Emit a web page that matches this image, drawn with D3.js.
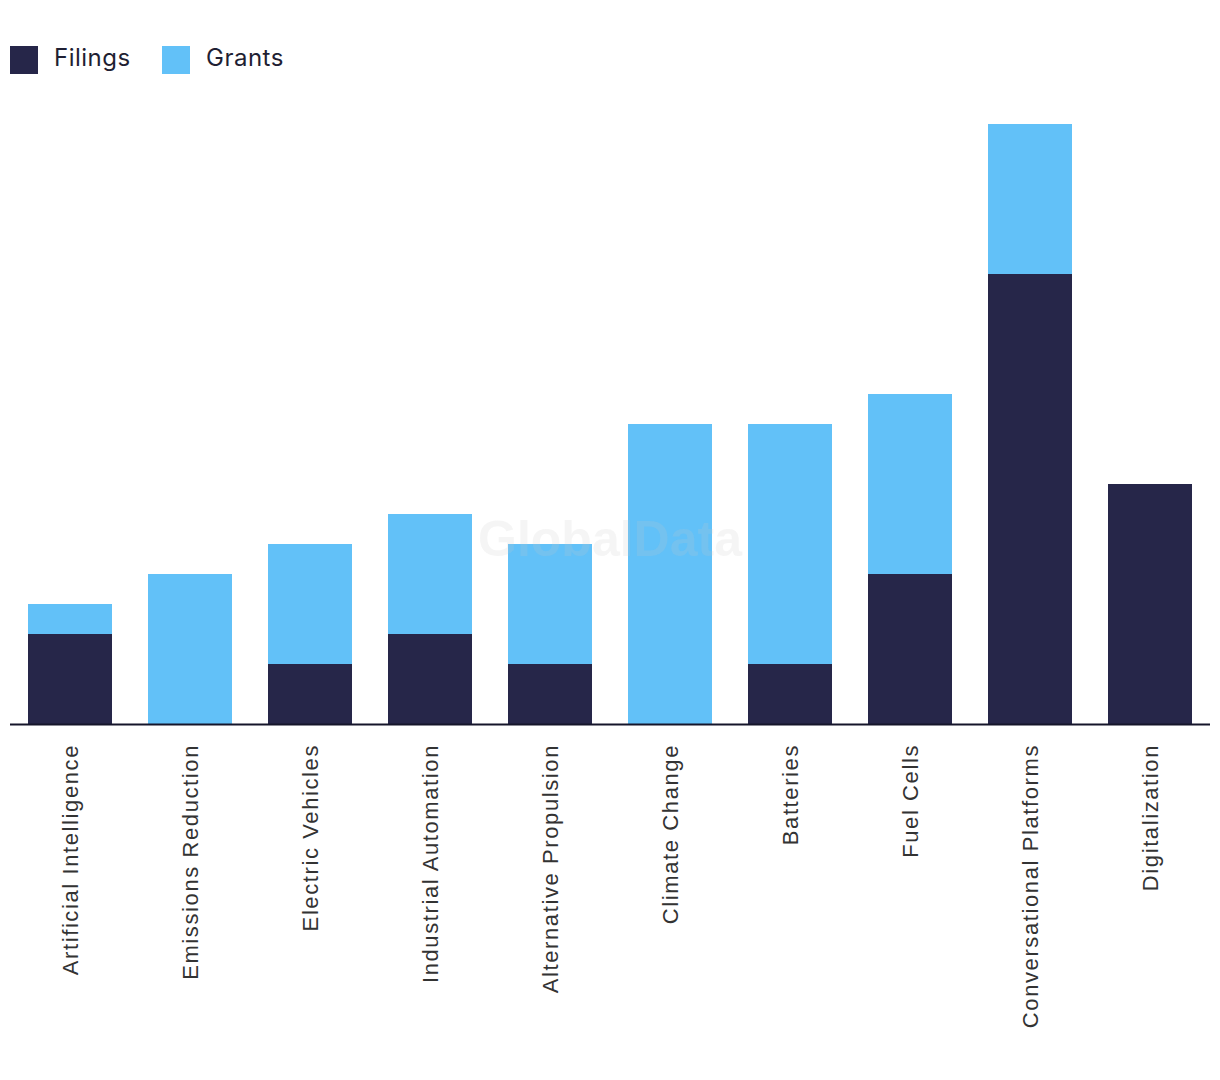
<!DOCTYPE html>
<html><head><meta charset="utf-8">
<script src="https://cdn.jsdelivr.net/npm/d3@7"></script>
<style>body{margin:0;background:#fff;}svg{display:block;}</style>
</head><body>
<script>
const categories = ["Artificial Intelligence","Emissions Reduction","Electric Vehicles","Industrial Automation","Alternative Propulsion","Climate Change","Batteries","Fuel Cells","Conversational Platforms","Digitalization"];
const filings = [3,0,2,3,2,0,2,5,15,8];
const grants  = [1,5,4,4,4,10,8,6,5,0];
const seriesNames = ["Filings","Grants"];
const colors = ["#262649","#62C1F8"];

const W=1220,H=1080;
const svg=d3.select("body").append("svg").attr("width",W).attr("height",H);
const x=d3.scaleBand().domain(categories).range([10,1210]).paddingInner(0.3).paddingOuter(0.15);
const y=d3.scaleLinear().domain([0,20]).range([724,124]);

const rows=categories.map((c,i)=>({cat:c,Filings:filings[i],Grants:grants[i]}));
const stack=d3.stack().keys(seriesNames)(rows);

svg.append("g").selectAll("g").data(stack).join("g").attr("fill",(d,i)=>colors[i])
  .selectAll("rect").data(d=>d).join("rect")
  .attr("x",d=>x(d.data.cat)).attr("width",x.bandwidth())
  .attr("y",d=>y(d[1])).attr("height",d=>y(d[0])-y(d[1]));

// watermark
svg.append("text").attr("x",610).attr("y",556).attr("text-anchor","middle")
  .attr("font-family","Liberation Sans, Arial, sans-serif").attr("font-weight","bold")
  .attr("font-size",50).attr("fill","#c8c8c8").attr("fill-opacity",0.18).text("GlobalData");

// axis
const ax=svg.append("g").attr("transform","translate(0,723)").call(d3.axisBottom(x).tickSize(0).tickPadding(0));
ax.select(".domain").attr("stroke","#15152a").attr("stroke-width",2).attr("d","M10,1.5H1210");
ax.selectAll(".tick text").attr("font-family","Liberation Sans, Arial, sans-serif").attr("font-size",22)
  .attr("letter-spacing","1.6px")
  .attr("fill","#333").attr("text-anchor","end")
  .attr("transform","translate(0,21) rotate(-90)").attr("x",0).attr("y",0).attr("dy","0.35em");

// legend
const lg=svg.append("g");
const lx=[10,162];
seriesNames.forEach((s,i)=>{
  lg.append("rect").attr("x",lx[i]).attr("y",46).attr("width",28).attr("height",28).attr("fill",colors[i]);
  lg.append("text").attr("x",lx[i]+44).attr("y",66).attr("font-family","Inter, sans-serif")
    .attr("letter-spacing","0.5px")
    .attr("font-size",24).attr("fill","#1f1f33").text(s);
});
</script>
</body></html>
